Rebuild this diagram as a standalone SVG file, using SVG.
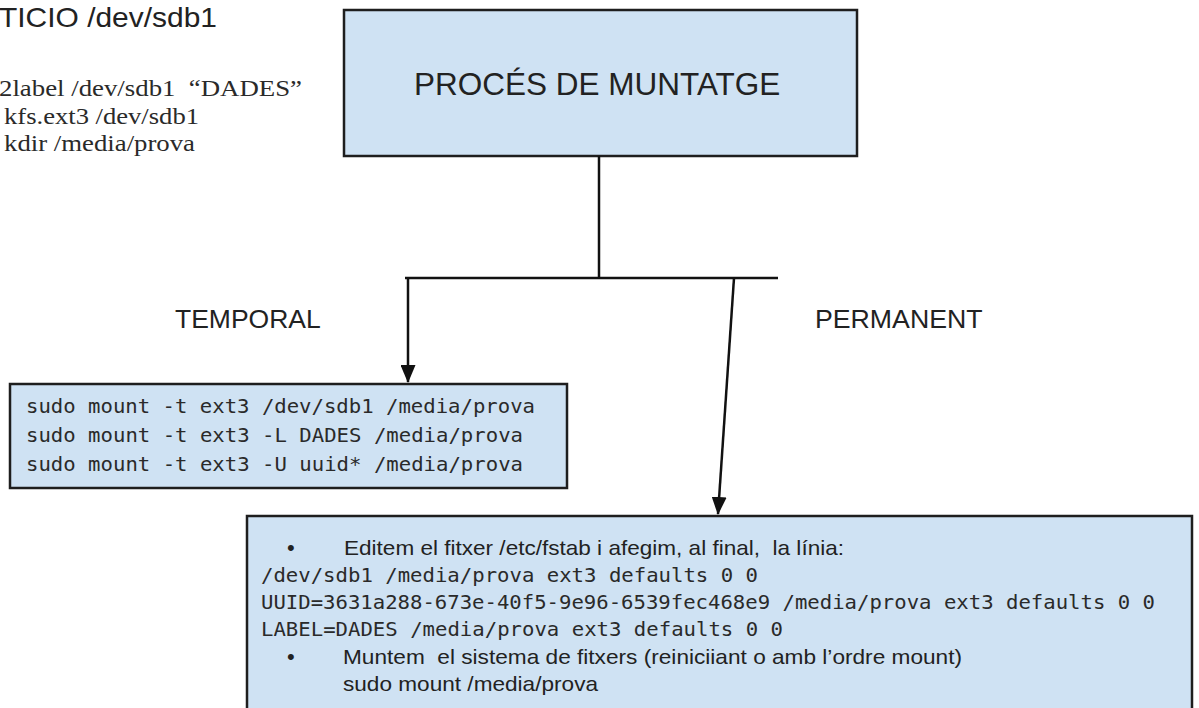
<svg xmlns="http://www.w3.org/2000/svg" width="1199" height="708" viewBox="0 0 1199 708">
<style>
  .box { fill: #cfe2f3; stroke: #1e1e1e; stroke-width: 2.5; }
  .line { fill: none; stroke: #111; stroke-width: 2.5; }
  .sans { font-family: "Liberation Sans", Arial, sans-serif; fill: #222; }
  .serif { font-family: "Liberation Serif", "Times New Roman", serif; fill: #2a2a2a; }
  .mono { font-family: "DejaVu Sans Mono", "Liberation Mono", monospace; fill: #2a2a2a; }
</style>
<defs>
  <marker id="arrow" markerUnits="userSpaceOnUse" viewBox="0 0 18 15" refX="17" refY="7.5" markerWidth="18" markerHeight="15" orient="auto">
    <path d="M0,0 L18,7.5 L0,15 Z" fill="#111"/>
  </marker>
</defs>
<rect width="1199" height="708" fill="#ffffff"/>

<g id="notes">
  <text class="sans" x="-1" y="27" font-size="28" textLength="218" lengthAdjust="spacingAndGlyphs">TICIO /dev/sdb1</text>
  <text class="serif" x="-1" y="96" font-size="24" xml:space="preserve" style="white-space:pre" textLength="303" lengthAdjust="spacingAndGlyphs">2label /dev/sdb1  “DADES”</text>
  <text class="serif" x="4" y="124" font-size="24" textLength="195" lengthAdjust="spacingAndGlyphs">kfs.ext3 /dev/sdb1</text>
  <text class="serif" x="4" y="151" font-size="24" textLength="191" lengthAdjust="spacingAndGlyphs">kdir /media/prova</text>
</g>

<g id="node-proces">
  <rect class="box" x="344" y="10" width="513" height="146"/>
  <text class="sans" x="414" y="95" font-size="31.5">PROCÉS DE MUNTATGE</text>
</g>

<g id="label-temporal">
  <text class="sans" x="175" y="328" font-size="26.5">TEMPORAL</text>
</g>
<g id="label-permanent">
  <text class="sans" x="815" y="328" font-size="26.7">PERMANENT</text>
</g>

<g id="node-temporal">
  <rect class="box" x="10" y="384" width="557" height="104"/>
  <text class="mono" x="26" y="413" font-size="19.5" textLength="509" lengthAdjust="spacingAndGlyphs">sudo mount -t ext3 /dev/sdb1 /media/prova</text>
  <text class="mono" x="26" y="442" font-size="19.5" textLength="497" lengthAdjust="spacingAndGlyphs">sudo mount -t ext3 -L DADES /media/prova</text>
  <text class="mono" x="26" y="471" font-size="19.5" textLength="497" lengthAdjust="spacingAndGlyphs">sudo mount -t ext3 -U uuid* /media/prova</text>
</g>

<g id="node-permanent">
  <rect class="box" x="247" y="516" width="945" height="210"/>
  <text class="sans" x="287" y="555" font-size="22">•</text>
  <text class="sans" x="344" y="555" font-size="21" xml:space="preserve" style="white-space:pre" textLength="500" lengthAdjust="spacingAndGlyphs">Editem el fitxer /etc/fstab i afegim, al final,  la línia:</text>
  <text class="mono" x="261" y="582" font-size="19.5" textLength="497" lengthAdjust="spacingAndGlyphs">/dev/sdb1 /media/prova ext3 defaults 0 0</text>
  <text class="mono" x="261" y="609" font-size="19.5" textLength="894" lengthAdjust="spacingAndGlyphs">UUID=3631a288-673e-40f5-9e96-6539fec468e9 /media/prova ext3 defaults 0 0</text>
  <text class="mono" x="261" y="636" font-size="19.5" textLength="522" lengthAdjust="spacingAndGlyphs">LABEL=DADES /media/prova ext3 defaults 0 0</text>
  <text class="sans" x="287" y="664" font-size="22">•</text>
  <text class="sans" x="343" y="664" font-size="21" xml:space="preserve" style="white-space:pre" textLength="619" lengthAdjust="spacingAndGlyphs">Muntem  el sistema de fitxers (reiniciiant o amb l’ordre mount)</text>
  <text class="sans" x="343" y="691" font-size="21" textLength="255" lengthAdjust="spacingAndGlyphs">sudo mount /media/prova</text>
</g>

<g id="connectors">
  <line class="line" x1="599" y1="156" x2="599" y2="278"/>
  <line class="line" x1="405" y1="278" x2="778" y2="278"/>
  <line class="line" x1="408" y1="278" x2="408" y2="382" marker-end="url(#arrow)"/>
  <line class="line" x1="734" y1="278" x2="718" y2="514" marker-end="url(#arrow)"/>
</g>
</svg>
